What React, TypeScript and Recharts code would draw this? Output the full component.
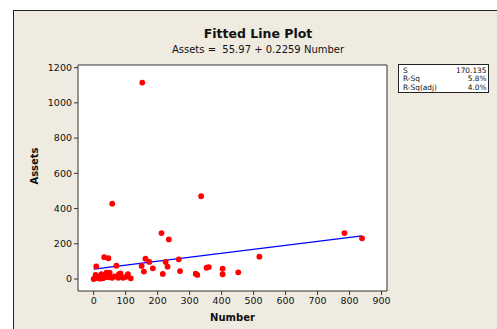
import React from 'react';
import { ScatterChart, Scatter, XAxis, YAxis, CartesianGrid, ReferenceLine, ReferenceArea } from 'recharts';

const numberValues = [0, 8, 6, 13, 19, 24, 29, 33, 46, 40, 50, 40, 50, 58, 58, 71, 77, 79, 84, 92, 102, 107, 116, 150, 152, 157, 162, 174, 185, 212, 216, 225, 231, 235, 266, 270, 319, 324, 336, 353, 360, 403, 403, 452, 518, 784, 839, 20, 35, 65];
const assetValues = [0, 72, 23, 5, 13, 28, 4, 124, 118, 36, 36, 12, 10, 7, 428, 76, 7, 27, 32, 7, 13, 28, 4, 74, 1115, 42, 115, 97, 61, 261, 29, 97, 70, 225, 112, 45, 30, 23, 470, 64, 68, 59, 27, 38, 127, 261, 231, 2, 10, 15];

const xTicks = [0, 100, 200, 300, 400, 500, 600, 700, 800, 900];
const yTicks = [0, 200, 400, 600, 800, 1000, 1200];
const xDomain: [number, number] = [-49, 917];
const yDomain: [number, number] = [-68, 1215];

const intercept = 55.97;
const slope = 0.2259;

const chartTitle = 'Fitted Line Plot';
const chartSubtitle = 'Assets =  55.97 + 0.2259 Number';
const xLabel = 'Number';
const yLabel = 'Assets';
const statLabels = ['S', 'R-Sq', 'R-Sq(adj)'];
const statValues = ['170.135', '5.8%', '4.0%'];

const points = numberValues.map((x, i) => ({ x, y: assetValues[i] }));
const xMin = Math.min(...numberValues);
const xMax = Math.max(...numberValues);
const fitSegment = [
  { x: xMin, y: intercept + slope * xMin },
  { x: xMax, y: intercept + slope * xMax },
];

const FONT = '"DejaVu Sans", Tahoma, sans-serif';
const BEIGE = '#EFEBE1';

const Dot = (props: any) => <circle cx={props.cx} cy={props.cy} r={2.9} fill="#FF0000" />;

export default function App() {
  return (
    <div style={{ position: 'absolute', left: 0, top: 0, width: 497, height: 329, background: '#fff', overflow: 'hidden', fontFamily: FONT }}>
      <svg width={497} height={329} style={{ position: 'absolute', left: 0, top: 0 }}>
        <rect x={13.5} y={10.5} width={500} height={330} fill={BEIGE} stroke="#222" strokeWidth={1} />
      </svg>
      <div style={{ position: 'absolute', left: 0, top: 0 }}>
        <ScatterChart width={497} height={329} margin={{ top: 65, right: 110, bottom: 0, left: 0 }}>
          <CartesianGrid horizontal={false} vertical={false} fill="#FFFFFF" stroke="none" />
          <XAxis
            type="number"
            dataKey="x"
            domain={xDomain}
            ticks={xTicks}
            allowDataOverflow
            height={38}
            tickSize={4}
            tickMargin={2}
            axisLine={false}
            tickLine={{ stroke: '#333' }}
            tick={{ fill: '#111', fontSize: 9.5, fontFamily: FONT }}
            interval={0}
          />
          <YAxis
            type="number"
            dataKey="y"
            domain={yDomain}
            ticks={yTicks}
            allowDataOverflow
            width={78}
            tickSize={4}
            tickMargin={2}
            axisLine={false}
            tickLine={{ stroke: '#333' }}
            tick={{ fill: '#111', fontSize: 9.5, fontFamily: FONT }}
            interval={0}
          />
          <ReferenceLine segment={fitSegment} stroke="#0000FF" strokeWidth={1.3} ifOverflow="visible" />
          <Scatter data={points} shape={Dot} isAnimationActive={false} />
          <ReferenceArea x1={xDomain[0]} x2={xDomain[1]} y1={yDomain[0]} y2={yDomain[1]} fill="none" stroke="#333" strokeWidth={1} ifOverflow="visible" />
        </ScatterChart>
      </div>
      <svg width={497} height={329} style={{ position: 'absolute', left: 0, top: 0, pointerEvents: 'none' }}>
        <text x={258} y={38} textAnchor="middle" fontFamily={FONT} fontWeight="bold" fontSize={12.5} fill="#111">{chartTitle}</text>
        <text x={258} y={53} textAnchor="middle" fontFamily={FONT} fontSize={10} fill="#111" style={{ whiteSpace: 'pre' }}>{chartSubtitle}</text>
        <text x={232.5} y={321} textAnchor="middle" fontFamily={FONT} fontWeight="bold" fontSize={10} fill="#111">{xLabel}</text>
        <text x={38} y={166} textAnchor="middle" fontFamily={FONT} fontWeight="bold" fontSize={10} fill="#111" transform="rotate(-90 38 166)">{yLabel}</text>
        <rect x={398.5} y={64.5} width={90} height={28} fill="#FFFFFF" stroke="#222" strokeWidth={1} />
        {statLabels.map((s, i) => (
          <text key={s} x={403} y={72.5 + i * 8.6} fontFamily={FONT} fontSize={7.4} fill="#111">{s}</text>
        ))}
        {statValues.map((s, i) => (
          <text key={s} x={486.5} y={72.5 + i * 8.6} textAnchor="end" fontFamily={FONT} fontSize={7.4} fill="#111">{s}</text>
        ))}
      </svg>
    </div>
  );
}
